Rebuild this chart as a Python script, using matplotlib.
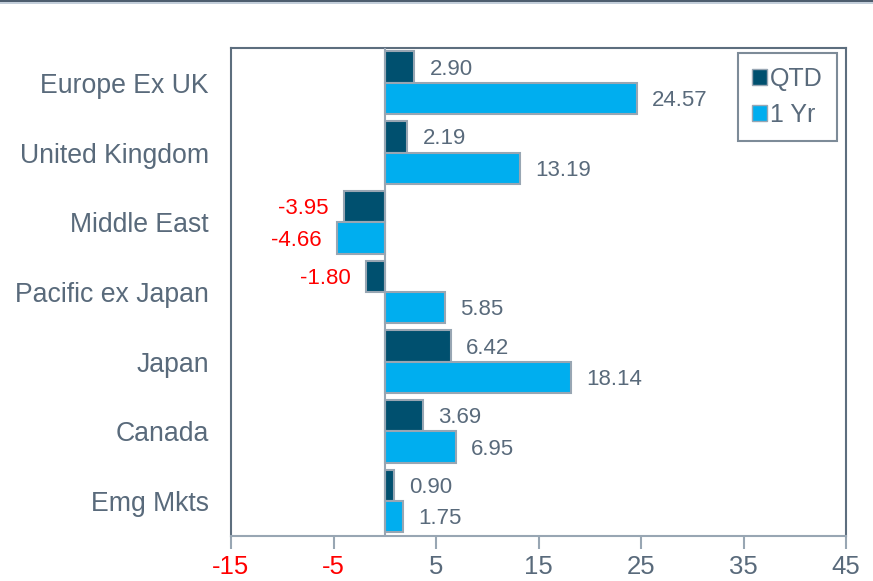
#!/usr/bin/env python3

import numpy as np
import matplotlib
matplotlib.use('Agg')
import matplotlib.pyplot as plt
import matplotlib.patches
import matplotlib.lines

regions = ['Europe Ex UK', 'United Kingdom', 'Middle East', 'Pacific ex Japan',
           'Japan', 'Canada', 'Emg Mkts']
qtd = [2.90, 2.19, -3.95, -1.80, 6.42, 3.69, 0.90]
one_yr = [24.57, 13.19, -4.66, 5.85, 18.14, 6.95, 1.75]
xticks = [-15, -5, 5, 15, 25, 35, 45]

TEXT = '#596a7b'
SPINE = '#5d6e7e'
EDGE = '#98a6b3'
DARK = '#00506f'
LIGHT = '#00aeef'

plt.rcParams['font.family'] = ['Liberation Sans', 'DejaVu Sans']

fig = plt.figure(figsize=(8.73, 5.81), dpi=100)
ax = fig.add_axes([0.2646, 0.0775, 0.7045, 0.8399])

# decorative rule at the very top
fig.add_artist(matplotlib.patches.Rectangle((0, 1 - 2/581), 1, 2/581,
               transform=fig.transFigure, color='#4d5d6e', lw=0))
fig.add_artist(matplotlib.patches.Rectangle((0, 1 - 4/581), 1, 2/581,
               transform=fig.transFigure, color='#c3ceda', lw=0))

y = np.arange(len(regions))
h = 0.45
ax.barh(y - h/2, qtd, height=h, color=DARK, edgecolor=EDGE, linewidth=1.5, zorder=2)
ax.barh(y + h/2, one_yr, height=h, color=LIGHT, edgecolor=EDGE, linewidth=1.5, zorder=2)
ax.axvline(0, color=EDGE, lw=1.5, zorder=3)

def label(vals, offset):
    for yi, v in zip(y + offset, vals):
        if v >= 0:
            ax.text(v + 1.5, yi + 0.03, f'{v:.2f}', va='center', ha='left',
                    fontsize=16, color=TEXT)
        else:
            ax.text(v - 1.5, yi + 0.03, f'{v:.2f}', va='center', ha='right',
                    fontsize=16, color='#ff0000')

label(qtd, -h/2)
label(one_yr, h/2)

ax.set_xlim(-15, 45)
ax.set_ylim(len(regions) - 0.5, -0.5)
ax.set_yticks(y)
ax.set_yticklabels(regions, fontsize=19.2, color=TEXT)
ax.tick_params(axis='y', length=0, pad=16)
ax.set_xticks(xticks)
ax.set_xticklabels([str(t) for t in xticks], fontsize=18.5)
for t, lab in zip(xticks, ax.get_xticklabels()):
    lab.set_color('#ff0000' if t < 0 else TEXT)
ax.tick_params(axis='x', length=9, width=1.5, color=EDGE, pad=5)

for s in ax.spines.values():
    s.set_color(SPINE)
    s.set_linewidth(1.5)
ax.spines['bottom'].set_color(EDGE)

handles = [
    matplotlib.patches.Patch(facecolor=DARK, edgecolor=EDGE, label='QTD'),
    matplotlib.patches.Patch(facecolor=LIGHT, edgecolor=EDGE, label='1 Yr'),
]
leg = ax.legend(handles=handles, loc='upper right', bbox_to_anchor=(0.985, 0.99),
                fontsize=18, frameon=True, fancybox=False, handlelength=0.6,
                handleheight=0.6, handletextpad=0.15, borderpad=0.55,
                labelspacing=0.5, borderaxespad=0)
leg.get_frame().set_edgecolor(SPINE)
leg.get_frame().set_linewidth(1.5)
for t in leg.get_texts():
    t.set_color(TEXT)

fig.savefig('out.png', dpi=100)
